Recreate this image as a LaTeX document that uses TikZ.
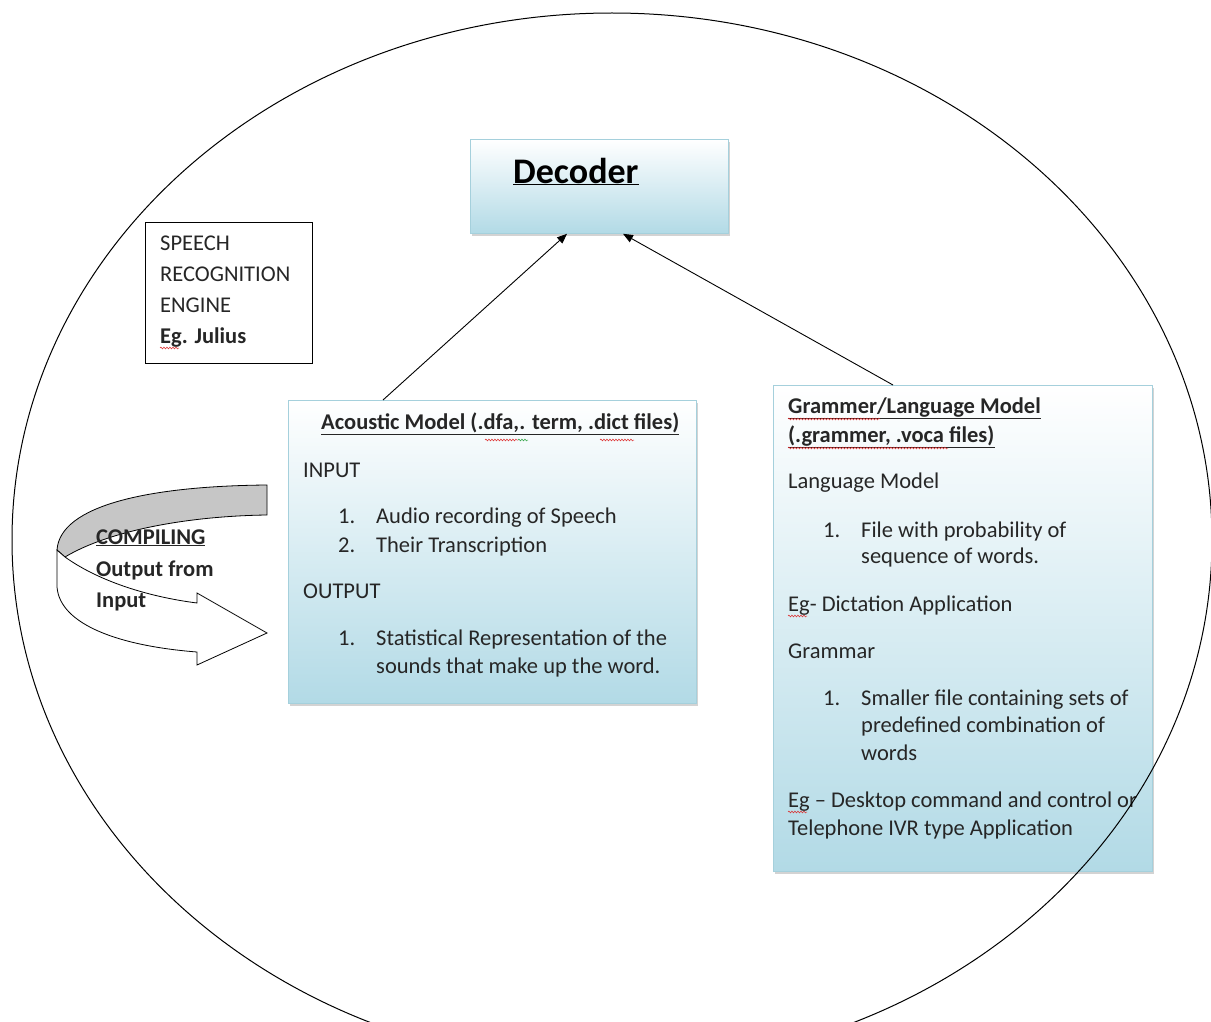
\documentclass[tikz,border=0pt]{standalone}
\usepackage{fontspec}
\setmainfont{Carlito}
\usetikzlibrary{arrows.meta,shadows,decorations.pathmorphing}

\definecolor{boxbot}{RGB}{178,218,230}
\definecolor{boxline}{RGB}{165,208,220}
\definecolor{bandgrey}{RGB}{198,198,198}
\definecolor{spellred}{RGB}{220,40,40}
\definecolor{spellgreen}{RGB}{40,160,60}

\begin{document}
\begin{tikzpicture}[x=1pt,y=-1pt,
  panel/.style={draw=boxline, line width=0.8pt, top color=white, bottom color=boxbot,
    anchor=north west, inner sep=0pt,
    drop shadow={shadow xshift=1.5pt, shadow yshift=-2.5pt, opacity=0.35}},
  plainbox/.style={draw=black, line width=1pt, fill=white, anchor=north west, inner sep=0pt},
  txt/.style={anchor=base west, inner sep=0pt, text=black!85,
    font=\fontsize{22.5}{27}\selectfont},
  btxt/.style={txt, font=\fontsize{22.5}{27}\selectfont\bfseries},
  arr/.style={-{Triangle[length=10pt,width=8pt]}, line width=0.9pt},
  squig/.style={decorate, decoration={snake, amplitude=0.9pt, segment length=3pt},
    draw=spellred, line width=0.5pt}
]
\useasboundingbox (0,0) rectangle (1211,1022);
\clip (0,0) rectangle (1211,1022);

% boxes
\node[panel, minimum width=258pt, minimum height=94pt] (dec) at (470,139) {};
\node[plainbox, minimum width=167pt, minimum height=141pt] (eng) at (145,222) {};
\node[panel, minimum width=408pt, minimum height=303pt] (ac) at (288,400) {};
\node[panel, minimum width=379pt, minimum height=486pt] (gr) at (773,385) {};

% connectors into the decoder
\draw[arr] ([xshift=95pt]ac.north west) -- ([xshift=97pt]dec.south west);
\draw[arr] ([xshift=120pt]gr.north west) -- ([xshift=153pt]dec.south west);

% curved block arrow: grey back band
\draw[line width=0.8pt, fill=bandgrey]
  (267,485) .. controls (150,486) and (60,505) .. (57,550)
  -- (65,557) .. controls (110,530) and (190,516) .. (267,515) -- cycle;
% curved block arrow: white front band with head
\draw[line width=0.8pt, fill=white]
  (65,557) .. controls (100,582) and (150,597) .. (197,603)
  -- (197,593) -- (267,633) -- (197,665) -- (197,652)
  .. controls (120,646) and (60,625) .. (57,587) -- (57,550) -- cycle;

% decoder title
\node[anchor=base west, inner sep=0pt, font=\fontsize{36}{40}\selectfont\bfseries]
  (dect) at (513,183) {\underline{Decoder}};

% engine label
\node[txt] (e1) at (160,250) {SPEECH};
\node[txt] (e2) at (160,281) {RECOGNITION};
\node[txt] (e3) at (160,312) {ENGINE};
\node[btxt] (e4) at (160,343) {Eg. Julius};

% compiling label
\node[btxt] (c1) at (96,544) {\underline{COMPILING}};
\node[btxt] (c2) at (96,576) {Output from};
\node[btxt] (c3) at (96,607) {Input};

% acoustic model text
\node[btxt] (a0) at (321,429) {\underline{Acoustic Model (.dfa,. term, .dict files)}};
\node[txt] (a1) at (303,477) {INPUT};
\node[txt] (a2n) at (338,523) {1.};
\node[txt] (a2) at (376,523) {Audio recording of Speech};
\node[txt] (a3n) at (338,552) {2.};
\node[txt] (a3) at (376,552) {Their Transcription};
\node[txt] (a4) at (303,598) {OUTPUT};
\node[txt] (a5n) at (338,645) {1.};
\node[txt] (a5) at (376,645) {Statistical Representation of the};
\node[txt] (a6) at (376,673) {sounds that make up the word.};

% grammar / language model text
\node[btxt] (g0) at (788,413) {\underline{Grammer/Language Model}};
\node[btxt] (g1) at (788,442) {\underline{(.grammer, .voca files)}};
\node[txt] (g2) at (788,488) {Language Model};
\node[txt] (g3n) at (823,537) {1.};
\node[txt] (g3) at (861,537) {File with probability of};
\node[txt] (g4) at (861,563) {sequence of words.};
\node[txt] (g5) at (788,611) {Eg- Dictation Application};
\node[txt] (g6) at (788,658) {Grammar};
\node[txt] (g7n) at (823,705) {1.};
\node[txt] (g7) at (861,705) {Smaller file containing sets of};
\node[txt] (g8) at (861,732) {predefined combination of};
\node[txt] (g9) at (861,760) {words};
\node[txt] (g10) at (788,807) {Eg -- Desktop command and control or};
\node[txt] (g11) at (788,835) {Telephone IVR type Application};

% spelling marks
\draw[squig] (160,348) -- (179,348);
\draw[squig] (485,440) -- (518,440);
\draw[squig, draw=spellgreen] (518,440) -- (528,440);
\draw[squig] (600,440) -- (634,440);
\draw[squig] (788,419) -- (880,419);
\draw[squig] (788,448) -- (948,448);
\draw[squig] (788,616) -- (807,616);
\draw[squig] (788,812) -- (807,812);

% outer engine boundary, drawn over the panels
\draw[line width=1pt] (612,540) ellipse [x radius=600pt, y radius=527pt];
\end{tikzpicture}
\end{document}
